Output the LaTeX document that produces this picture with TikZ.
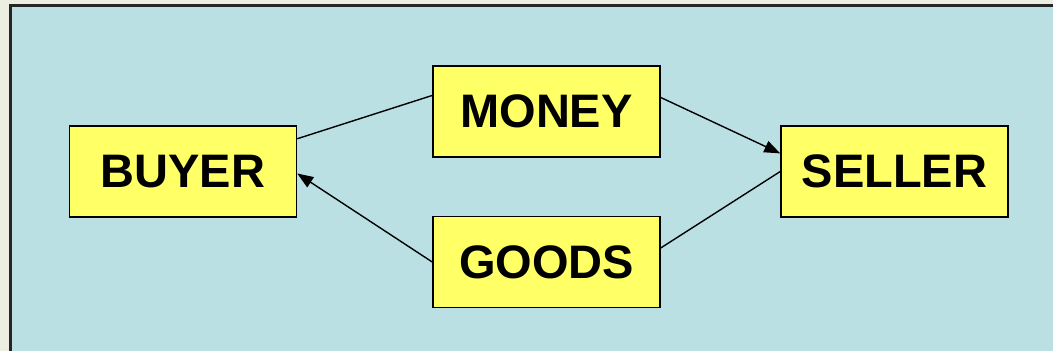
\documentclass[tikz,border=0pt]{standalone}
\usepackage{fontspec}
\setmainfont{Liberation Sans}
\usetikzlibrary{arrows.meta}
\definecolor{outerbg}{HTML}{ECEEE2}
\definecolor{panelbg}{HTML}{BBE0E4}
\definecolor{boxfill}{HTML}{FFFF66}
\tikzset{
  termbox/.style={draw=black, line width=1.5pt, fill=boxfill, minimum width=227pt, minimum height=91pt, inner sep=0pt, font=\fontsize{47}{56}\selectfont\bfseries},
  link/.style={draw=black, line width=1.4pt},
  flow/.style={link, -{Triangle[length=16pt,width=12pt]}}
}
\begin{document}
\begin{tikzpicture}[x=1pt,y=-1pt]
\useasboundingbox (0,0) rectangle (1053,351);
\fill[outerbg] (0,0) rectangle (1053,351);
\draw[fill=panelbg, draw=black!85, line width=3pt] (10.5,5.5) rectangle (1070,370);
\node[termbox] (buyer) at (183,171.5) {BUYER};
\node[termbox] (money) at (546.5,111.5) {MONEY};
\node[termbox] (goods) at (546.5,262) {GOODS};
\node[termbox] (seller) at (894.5,171.5) {SELLER};
\draw[link] (buyer.16) -- (money.172.7);
\draw[flow] (money.7.3) -- (seller.171.7);
\draw[flow] (goods.180) -- (buyer.-1);
\draw[link] (goods.7.5) -- (seller.180);
\end{tikzpicture}
\end{document}
